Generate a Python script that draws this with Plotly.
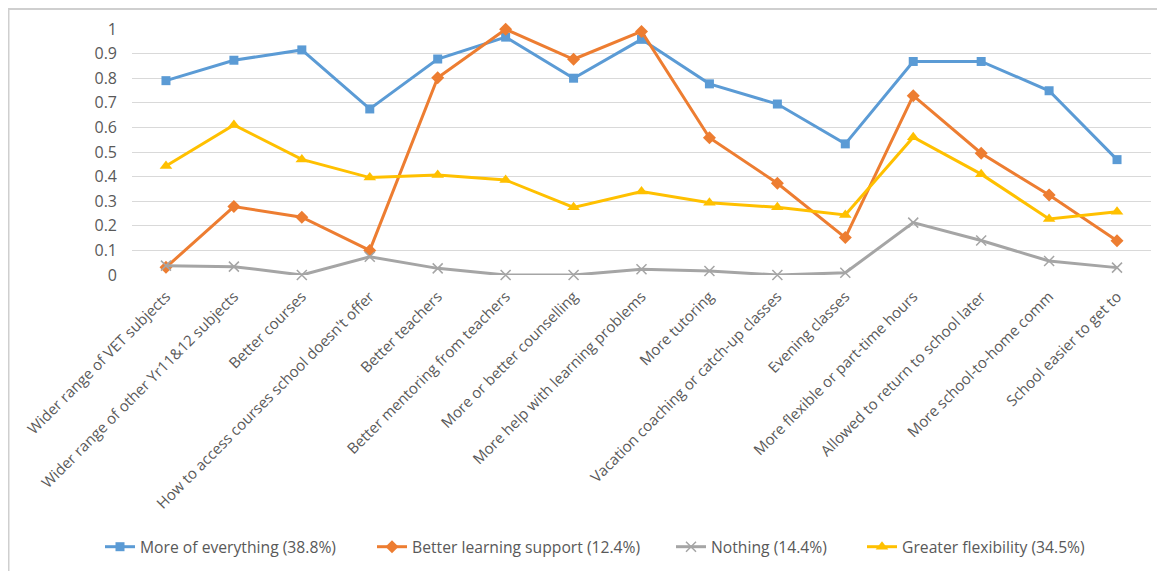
import plotly.graph_objects as go

categories = [
    "Wider range of VET subjects",
    "Wider range of other Yr11&12 subjects",
    "Better courses",
    "How to access courses school doesn't offer",
    "Better teachers",
    "Better mentoring from teachers",
    "More or better counselling",
    "More help with learning problems",
    "More tutoring",
    "Vacation coaching or catch-up classes",
    "Evening classes",
    "More flexible or part-time hours",
    "Allowed to return to school later",
    "More school-to-home comm",
    "School easier to get to",
]

more_of_everything = [0.79, 0.873, 0.915, 0.675, 0.878, 0.967, 0.80, 0.958, 0.777, 0.695, 0.533, 0.868, 0.868, 0.749, 0.469]
better_learning_support = [0.031, 0.278, 0.235, 0.10, 0.802, 0.999, 0.877, 0.99, 0.558, 0.373, 0.152, 0.729, 0.495, 0.325, 0.139]
nothing = [0.038, 0.034, 0.0, 0.074, 0.027, 0.0, 0.0, 0.023, 0.016, 0.0, 0.009, 0.213, 0.14, 0.057, 0.03]
greater_flexibility = [0.443, 0.61, 0.47, 0.396, 0.407, 0.386, 0.275, 0.339, 0.294, 0.275, 0.244, 0.56, 0.41, 0.228, 0.257]

series_names = [
    "More of everything (38.8%)",
    "Better learning support (12.4%)",
    "Nothing (14.4%)",
    "Greater flexibility (34.5%)",
]
y_ticks = [0, 0.1, 0.2, 0.3, 0.4, 0.5, 0.6, 0.7, 0.8, 0.9, 1]
y_tick_text = ["0", "0.1", "0.2", "0.3", "0.4", "0.5", "0.6", "0.7", "0.8", "0.9", "1"]

FONT = "Open Sans"
TXT = "#595959"

W, H = 1165, 571
OFF = 8  # browser default body margin
L, R, T, B = 132 - OFF, 22, 29 - OFF, 304
pw = W - L - R
ph = H - T - B

def px(x):
    return (x - OFF - L) / pw

def py(y):
    return (H - B - (y - OFF)) / ph

legend_ids = ["legend", "legend2", "legend3", "legend4"]
legend_text_x = [142, 414, 713, 904]  # page x where legend texts start

fig = go.Figure()
styles = [
    (more_of_everything, "#5B9BD5", dict(symbol="square", size=9)),
    (better_learning_support, "#ED7D31", dict(symbol="diamond", size=10)),
    (nothing, "#A5A5A5", dict(symbol="x-thin", size=10, line=dict(color="#A5A5A5", width=1.5))),
    (greater_flexibility, "#FFC000", dict(symbol="triangle-up", size=11)),
]
for name, lid, (vals, color, mk) in zip(series_names, legend_ids, styles):
    marker = dict(color=color, **mk)
    fig.add_trace(go.Scatter(
        x=categories, y=vals, name=name, mode="lines+markers",
        line=dict(color=color, width=3), marker=marker, cliponaxis=False,
        legend=lid,
    ))

legend_layout = {}
for lid, tx in zip(legend_ids, legend_text_x):
    legend_layout[lid] = dict(
        orientation="h", xref="container", yref="container",
        x=(tx - OFF - 42) / W, xanchor="left",
        y=(H - (547 - OFF)) / H, yanchor="middle",
        font=dict(size=15.7, color=TXT, family=FONT),
        bgcolor="rgba(0,0,0,0)", borderwidth=0,
    )

fig.update_layout(
    width=W, height=H,
    margin=dict(l=L, r=R, t=T, b=B, autoexpand=False),
    paper_bgcolor="white", plot_bgcolor="white",
    font=dict(family=FONT, color=TXT, size=13),
    showlegend=True,
    xaxis=dict(
        type="category", tickangle=-45, showgrid=False, zeroline=False,
        showline=False, ticks="", tickfont=dict(size=15, color=TXT),
        range=[-0.5, len(categories) - 0.5], automargin=False,
        ticklabelstandoff=9,
    ),
    yaxis=dict(
        range=[0, 1], tickvals=y_ticks, ticktext=y_tick_text,
        showgrid=True, gridcolor="#D9D9D9", gridwidth=1,
        zeroline=False, showline=False, ticks="", automargin=False,
        tickfont=dict(size=16, color=TXT), ticklabelstandoff=14,
    ),
    shapes=[
        dict(type="line", xref="paper", yref="paper", layer="above",
             x0=px(8), x1=px(W + 20), y0=py(9), y1=py(9),
             line=dict(color="#CFCFCF", width=2)),
        dict(type="line", xref="paper", yref="paper", layer="above",
             x0=px(8.5), x1=px(8.5), y0=py(9), y1=py(H + 20),
             line=dict(color="#CFCFCF", width=2)),
    ],
    **legend_layout,
)

fig.write_html("out.html")
